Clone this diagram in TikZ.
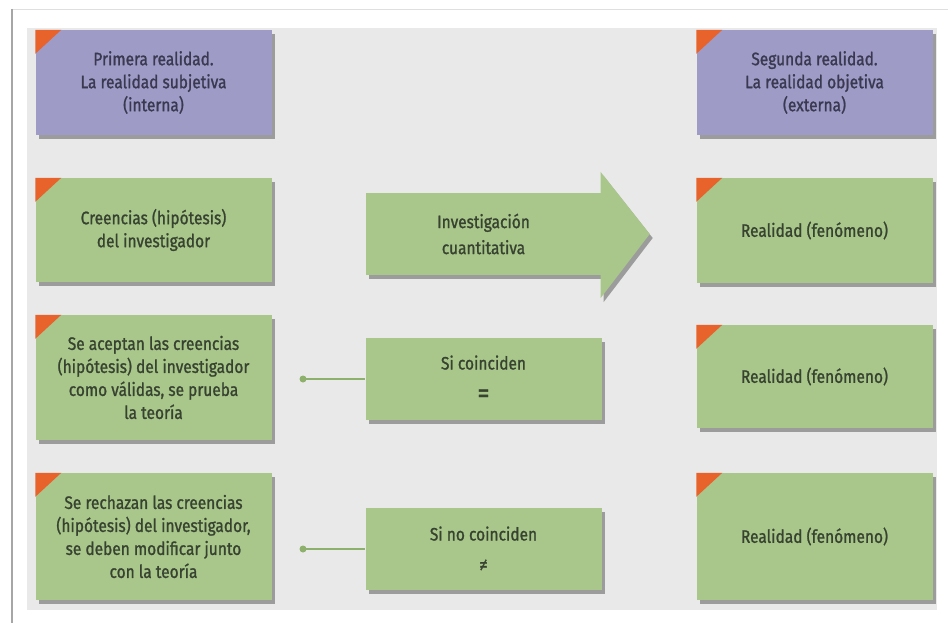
\documentclass[tikz,border=0pt]{standalone}
\usepackage{fontspec}
\setmainfont{Fira Sans}[FakeStretch=0.86,FakeBold=1.2]
\usetikzlibrary{shadows}
\definecolor{fondo}{HTML}{E9E9E9}
\definecolor{lila}{HTML}{9E9BC7}
\definecolor{verde}{HTML}{A9C78B}
\definecolor{naranja}{HTML}{E8632B}
\definecolor{txtlila}{HTML}{3A3950}
\definecolor{txtverde}{HTML}{374330}
\definecolor{linea}{HTML}{8DB06C}
\begin{document}
\begin{tikzpicture}[x=1pt,y=-1pt,
  sombra/.style={drop shadow={shadow xshift=3pt,shadow yshift=-4pt,fill=black!75,opacity=.45}},
  caja/.style={sombra,minimum width=236pt,inner sep=0pt,align=center,
    font=\fontsize{18}{23}\selectfont},
  cajalila/.style={caja,fill=lila,text=txtlila},
  cajaverde/.style={caja,fill=verde,text=txtverde},
  conector/.style={draw=linea,line width=2pt}]
\useasboundingbox (0,0) rectangle (948,623);
\fill[white] (0,0) rectangle (948,623);
\draw[gray!25] (12,9) -- (948,9);
\draw[gray!70,line width=1.5pt] (12,9) -- (12,623);
\fill[fondo] (27,28) rectangle (937,610);

\node[cajalila,minimum height=105pt] (p1) at (153.5,82.5) {Primera realidad.\\La realidad subjetiva\\(interna)};
\node[cajalila,minimum height=105pt] (p2) at (814.5,82.5) {Segunda realidad.\\La realidad objetiva\\(externa)};

\node[cajaverde,minimum height=104pt] (c1) at (153.5,230) {Creencias (hipótesis)\\del investigador};
\node[cajaverde,minimum height=82pt,font=\fontsize{18}{26}\selectfont] (inv) at (483.5,234) {Investigación\\cuantitativa};
\path[fill=verde,sombra] ([xshift=-1pt,yshift=62pt]inv.east) -- ([xshift=48pt]inv.east)
  -- ([xshift=-1pt,yshift=-64pt]inv.east) -- cycle;
\node[cajaverde,minimum height=105pt] (r1) at (814.5,230.5) {Realidad (fenómeno)};

\node[cajaverde,minimum height=125pt] (c2) at (153.5,377.5) {Se aceptan las creencias\\(hipótesis) del investigador\\como válidas, se prueba\\la teoría};
\node[cajaverde,minimum height=82pt] (m2) at (483.5,379) {Si coinciden\\[10pt]{\fontsize{28}{26}\selectfont =}};
\node[cajaverde,minimum height=103pt] (r2) at (814.5,376.5) {Realidad (fenómeno)};

\node[cajaverde,minimum height=127pt] (c3) at (153.5,536.5) {Se rechazan las creencias\\(hipótesis) del investigador,\\se deben modificar junto\\con la teoría};
\node[cajaverde,minimum height=82pt] (m3) at (483.5,549) {Si no coinciden\\[8pt]{\fontsize{20}{20}\selectfont ≠}};
\node[cajaverde,minimum height=127pt] (r3) at (814.5,536.5) {Realidad (fenómeno)};

\foreach \n in {p1,p2,c1,r1,c2,r2,c3,r3}
  \fill[naranja] (\n.north west) -- ++(26,0) -- ++(-26,24) -- cycle;

\coordinate (d2) at (303,379);
\coordinate (d3) at (303,549);
\draw[conector] (d2) -- (m2.west);
\draw[conector] (d3) -- (m3.west);
\fill[linea] (d2) circle (3.5pt) (d3) circle (3.5pt);
\end{tikzpicture}
\end{document}
